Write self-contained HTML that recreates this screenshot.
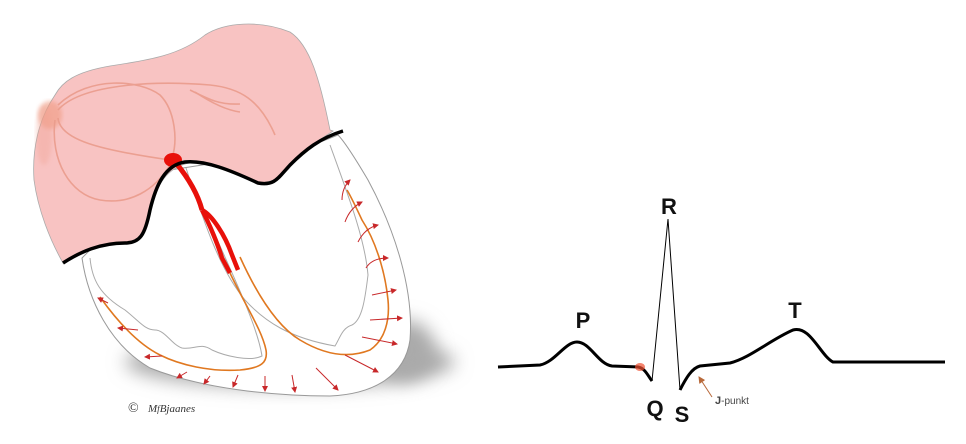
<!DOCTYPE html>
<html><head><meta charset="utf-8"><style>
html,body{margin:0;padding:0;background:#fff;}
svg{display:block;}
</style></head><body>
<svg width="966" height="444" viewBox="0 0 966 444" xmlns="http://www.w3.org/2000/svg">
<defs>
<marker id="ah" markerWidth="6" markerHeight="6" refX="5" refY="3" orient="auto" markerUnits="userSpaceOnUse">
<path d="M0,0 L6,3 L0,6 z" fill="#c8282a"/></marker>
<marker id="ah2" markerWidth="7" markerHeight="7" refX="6" refY="3.5" orient="auto" markerUnits="userSpaceOnUse">
<path d="M0,0 L7,3.5 L0,7 z" fill="#b8693a"/></marker>
<filter id="bl" x="-50%" y="-50%" width="200%" height="200%"><feGaussianBlur stdDeviation="9"/></filter>
<filter id="bl2"><feGaussianBlur stdDeviation="2"/></filter>
</defs>
<!-- shadow -->
<ellipse cx="290" cy="362" rx="165" ry="26" fill="#aaa" filter="url(#bl)"/>
<ellipse cx="405" cy="350" rx="30" ry="30" fill="#aaa" filter="url(#bl)"/>
<!-- ventricles outer -->
<path d="M82,258 C88,300 110,345 150,368 C200,388 270,396 330,396 C375,394 405,375 410,340 C414,290 395,230 368,180 C355,158 345,142 338,135 L300,150 L170,170 Z" fill="#fff" stroke="#999" stroke-width="1"/>
<!-- RV cavity -->
<path d="M90,258 C92,280 100,295 125,310 C140,322 145,330 155,330 C165,330 172,345 182,348 C195,350 200,342 212,350 C225,356 250,362 262,356 C258,330 240,290 215,235 C200,200 190,180 183,170" fill="none" stroke="#aaa" stroke-width="1"/>
<!-- LV cavity -->
<path d="M186,168 C205,225 220,270 245,300 C265,322 290,338 335,346 C340,338 342,328 352,325 C362,320 365,300 368,275 C365,240 350,200 330,145" fill="none" stroke="#aaa" stroke-width="1"/>
<!-- atria -->
<path d="M63,263 C50,240 38,210 34,180 C32,150 38,120 55,95 C62,82 75,72 110,66 C150,60 180,55 205,35 C225,22 260,20 290,32 C310,45 320,80 330,130 L333,131 C320,140 300,150 292,165 C282,178 272,182 260,183 C240,178 220,165 195,162 C170,165 158,180 150,210 C145,235 135,245 120,243 C100,243 80,250 63,263 Z" fill="#f8c3c2" stroke="#aaa" stroke-width="0.8"/>
<ellipse cx="50" cy="115" rx="12" ry="14" fill="#f09a80" opacity="0.6" filter="url(#bl2)"/>
<ellipse cx="44" cy="135" rx="8" ry="30" fill="#f0a090" opacity="0.35" filter="url(#bl2)"/>
<g fill="none" stroke="#ea9c8c" stroke-width="1.6" opacity="0.9">
<path d="M58,110 C80,85 150,80 210,85 C240,88 260,100 275,135"/>
<path d="M58,105 C90,75 140,80 160,95 C175,110 178,140 172,158"/>
<path d="M58,118 C60,140 100,150 170,160"/>
<path d="M55,120 C50,160 70,195 100,200 C130,205 155,190 170,165"/>
<path d="M190,90 C210,100 220,105 240,104"/>
<path d="M195,92 C210,102 225,110 240,112"/>
</g>
<g fill="none" stroke="#e8100a" stroke-linecap="butt">
<path d="M176,163 C190,180 198,195 202,210" stroke-width="5"/>
<path d="M202,210 C212,215 225,235 232,255 L238,270" stroke-width="4.5"/>
<path d="M202,210 C210,225 218,245 222,258 L230,273" stroke-width="4.5"/>
</g>
<ellipse cx="173" cy="160" rx="9" ry="7" fill="#e8100a"/>
<path d="M63,263 C80,252 100,243 125,243 C140,243 145,235 150,210 C156,185 165,165 185,162 C205,160 230,170 258,183 C275,186 278,178 290,165 C305,150 320,138 343,131" fill="none" stroke="#000" stroke-width="3.5"/>
<g fill="none" stroke="#e07820" stroke-width="1.6">
<path d="M240,257 C255,290 275,325 300,340 C320,352 345,360 370,350 C385,340 390,320 388,300 C385,270 375,240 362,220 C355,205 350,195 347,190"/>
<path d="M230,273 C245,305 262,330 266,350 C268,362 262,368 240,370 C210,372 180,365 160,355 C140,345 120,325 100,297"/>
</g>
<g stroke="#c8282a" stroke-width="1" marker-end="url(#ah)" fill="none">
<path d="M342,200 Q342,188 350,180"/>
<path d="M345,222 Q350,208 362,202"/>
<path d="M358,242 Q365,228 378,225"/>
<path d="M366,268 Q372,258 388,258"/>
<path d="M372,295 L396,290"/>
<path d="M370,320 L402,318"/>
<path d="M362,337 L397,344"/>
<path d="M345,355 L378,372"/>
<path d="M316,368 L338,390"/>
<path d="M292,375 L295,392"/>
<path d="M265,376 L265,391"/>
<path d="M238,375 L233,387"/>
<path d="M210,376 L204,384"/>
<path d="M187,372 L177,378"/>
<path d="M162,356 L145,357"/>
<path d="M138,330 L118,328"/>
<path d="M108,303 L98,298"/>
</g>
<text x="128" y="412" font-family="Liberation Serif, serif" font-size="14" fill="#333">©</text>
<text x="148" y="412" font-family="Liberation Serif, serif" font-size="11" font-style="italic" fill="#333">M<tspan font-size="9">f</tspan>Bjaanes</text>

<path d="M498,367 L540,365 C555,362 565,342 577,342 C590,342 598,364 612,366 L638,367 C645,368 648,376 652,381" fill="none" stroke="#000" stroke-width="3"/>
<path d="M652,381 L668,219 L680,390" fill="none" stroke="#000" stroke-width="1"/>
<path d="M680,390 C686,378 692,368 700,366 L730,363 C750,358 770,340 793,330 C810,325 820,355 833,362 L945,362" fill="none" stroke="#000" stroke-width="3"/>
<ellipse cx="640" cy="367" rx="5" ry="4" fill="#f05030" opacity="0.7"/>
<line x1="712" y1="397" x2="699" y2="377" stroke="#b8693a" stroke-width="1" marker-end="url(#ah2)"/>
<g font-family="Liberation Sans, sans-serif" font-weight="bold" font-size="22" fill="#111" text-anchor="middle">
<text x="669" y="214">R</text>
<text x="583" y="328">P</text>
<text x="795" y="318">T</text>
<text x="655" y="416">Q</text>
<text x="682" y="422">S</text>
</g>
<text x="715" y="404" font-family="Liberation Sans, sans-serif" font-size="10" fill="#444"><tspan font-weight="bold" font-size="11">J</tspan>-punkt</text>
</svg>
</body></html>
